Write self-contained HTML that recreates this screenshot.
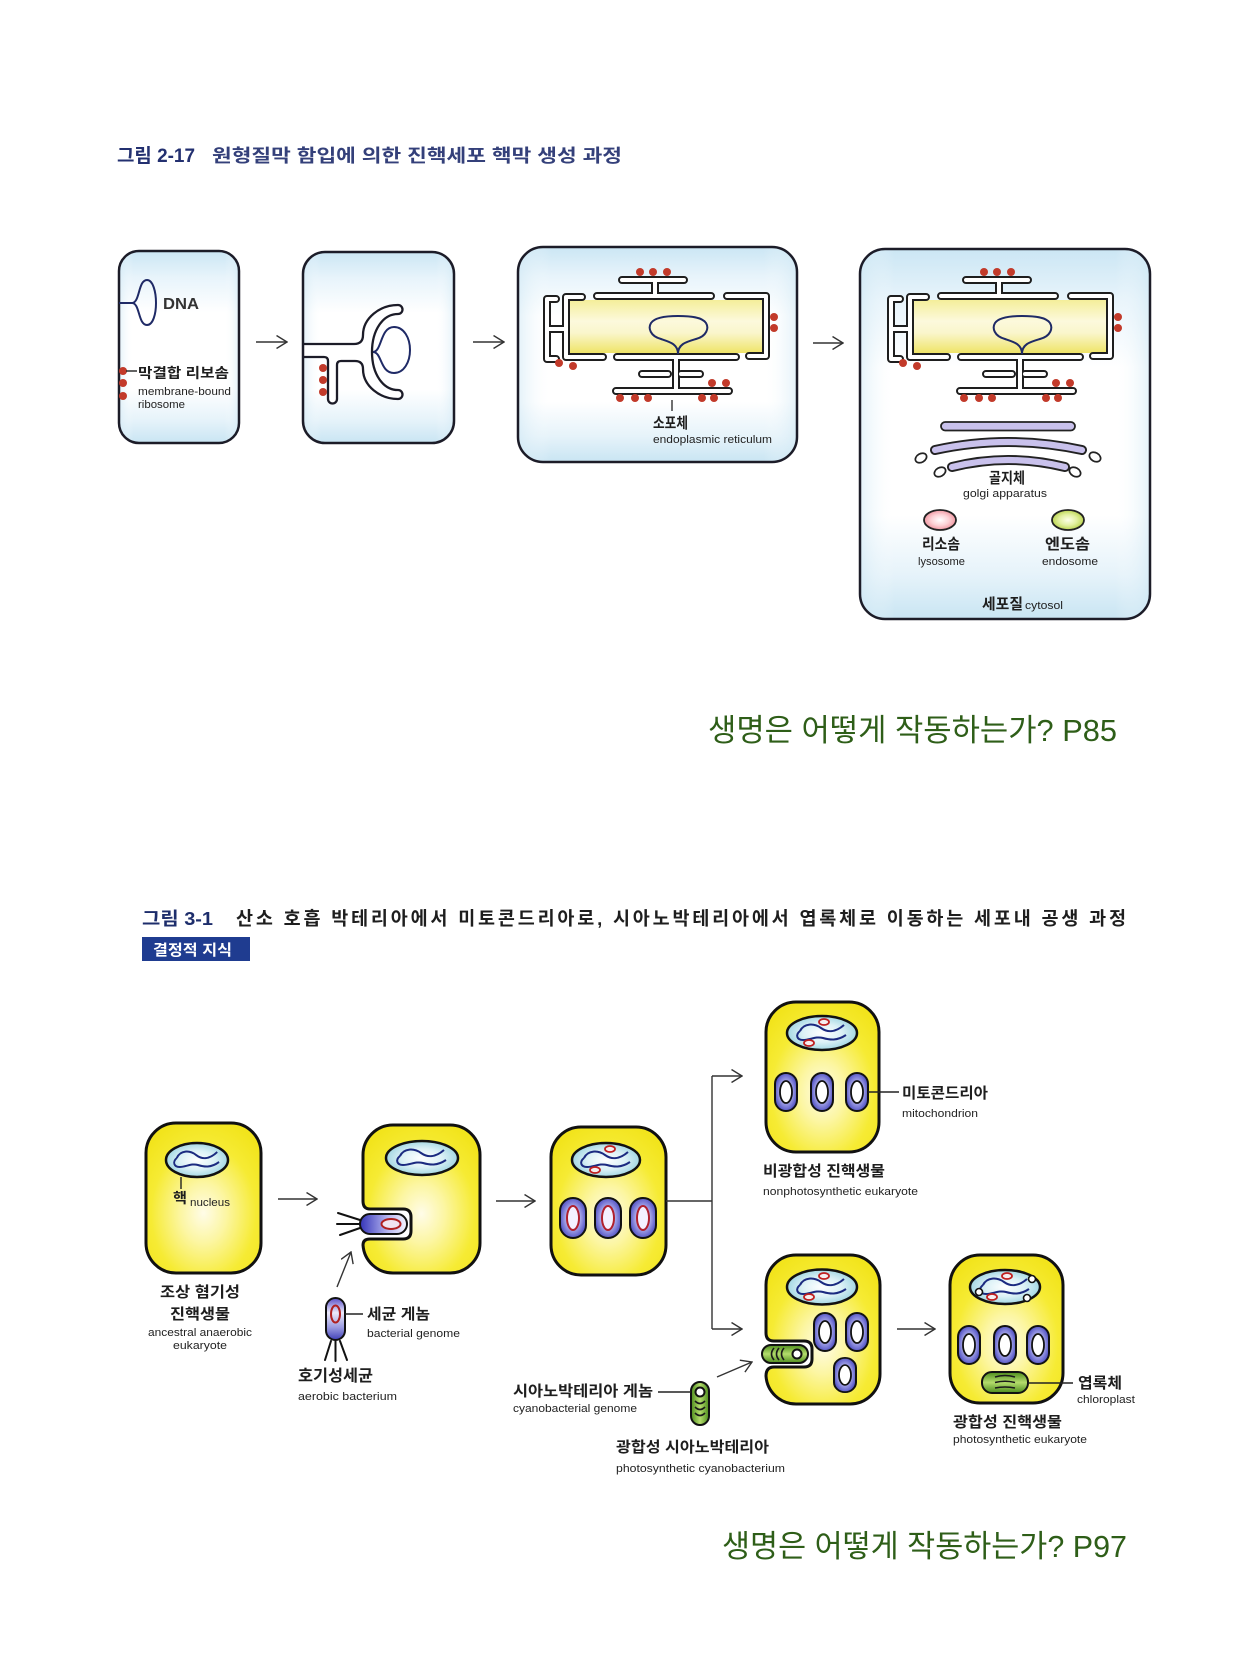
<!DOCTYPE html>
<html>
<head>
<meta charset="utf-8">
<style>
  html,body{margin:0;padding:0;background:#ffffff;}
  svg{display:block;}
  .k{font-family:"Liberation Sans","Noto Sans CJK KR",sans-serif;font-weight:700;fill:#1e1e1e;}
  .e{font-family:"Liberation Sans","Noto Sans CJK KR",sans-serif;font-size:11px;fill:#222;}
  .g{font-family:"Liberation Sans","Noto Sans CJK KR",sans-serif;font-weight:400;fill:#2e5e18;}
</style>
</head>
<body>
<svg width="1260" height="1680" viewBox="0 0 1260 1680" xmlns="http://www.w3.org/2000/svg" xmlns:xlink="http://www.w3.org/1999/xlink">
<defs>
  <linearGradient id="boxV" x1="0" y1="0" x2="0" y2="1">
    <stop offset="0" stop-color="#cbe6f4"/>
    <stop offset="0.14" stop-color="#e8f4fb"/>
    <stop offset="0.32" stop-color="#ffffff"/>
    <stop offset="0.72" stop-color="#ffffff"/>
    <stop offset="0.88" stop-color="#e6f3fa"/>
    <stop offset="1" stop-color="#c9e5f3"/>
  </linearGradient>
  <linearGradient id="boxH" x1="0" y1="0" x2="1" y2="0">
    <stop offset="0" stop-color="#cde7f4" stop-opacity="0.55"/>
    <stop offset="0.12" stop-color="#ffffff" stop-opacity="0"/>
    <stop offset="0.88" stop-color="#ffffff" stop-opacity="0"/>
    <stop offset="1" stop-color="#cde7f4" stop-opacity="0.55"/>
  </linearGradient>
  <linearGradient id="yER" x1="0" y1="0" x2="0" y2="1">
    <stop offset="0" stop-color="#f4ee9a"/>
    <stop offset="0.4" stop-color="#fcf9dc"/>
    <stop offset="0.62" stop-color="#faf6cc"/>
    <stop offset="1" stop-color="#efe468"/>
  </linearGradient>
  <radialGradient id="cellY" cx="0.5" cy="0.6" r="0.65">
    <stop offset="0" stop-color="#fffce8"/>
    <stop offset="0.3" stop-color="#fcf6a4"/>
    <stop offset="0.7" stop-color="#f6eb34"/>
    <stop offset="1" stop-color="#f2e41c"/>
  </radialGradient>
  <radialGradient id="nucG" cx="0.5" cy="0.5" r="0.55">
    <stop offset="0" stop-color="#ffffff"/>
    <stop offset="0.5" stop-color="#dcf1f6"/>
    <stop offset="1" stop-color="#98d2df"/>
  </radialGradient>
  <radialGradient id="mitoG" cx="0.5" cy="0.5" r="0.55">
    <stop offset="0" stop-color="#eeeeff"/>
    <stop offset="0.45" stop-color="#b4b4ee"/>
    <stop offset="1" stop-color="#4848c0"/>
  </radialGradient>
  <linearGradient id="bactH" x1="0" y1="0" x2="1" y2="0">
    <stop offset="0" stop-color="#3434b8"/>
    <stop offset="0.6" stop-color="#b8b8f0"/>
    <stop offset="1" stop-color="#f6f6ff"/>
  </linearGradient>
  <linearGradient id="bactV" x1="0" y1="0" x2="0" y2="1">
    <stop offset="0" stop-color="#5a4ec8"/>
    <stop offset="0.35" stop-color="#ecebfb"/>
    <stop offset="0.7" stop-color="#9a9ae0"/>
    <stop offset="1" stop-color="#4040b8"/>
  </linearGradient>
  <linearGradient id="grH" x1="0" y1="0" x2="1" y2="0">
    <stop offset="0" stop-color="#4c8c1c"/>
    <stop offset="0.5" stop-color="#b4dc6c"/>
    <stop offset="1" stop-color="#4c8c1c"/>
  </linearGradient>
  <linearGradient id="grV" x1="0" y1="0" x2="0" y2="1">
    <stop offset="0" stop-color="#4c8c1c"/>
    <stop offset="0.5" stop-color="#b4dc6c"/>
    <stop offset="1" stop-color="#4c8c1c"/>
  </linearGradient>
  <radialGradient id="lysoG" cx="0.5" cy="0.5" r="0.55">
    <stop offset="0" stop-color="#ffffff"/>
    <stop offset="0.5" stop-color="#fcd2d6"/>
    <stop offset="1" stop-color="#ee8a96"/>
  </radialGradient>
  <radialGradient id="endoG" cx="0.5" cy="0.5" r="0.55">
    <stop offset="0" stop-color="#fdffe8"/>
    <stop offset="0.5" stop-color="#e2f0a0"/>
    <stop offset="1" stop-color="#b2ce3e"/>
  </radialGradient>

  <marker id="ah" viewBox="0 0 12 14" refX="11" refY="7" markerWidth="12" markerHeight="14" markerUnits="userSpaceOnUse" orient="auto">
    <path d="M0.5,0.5 L11,7 L0.5,13.5" fill="none" stroke="#333" stroke-width="1.4"/>
  </marker>

  <path id="erp" d="M622,280 H684 M655,280 V296 M597,296 H711 M727,296 H766 V356 H749 M617,357 H736 M582,297 H566 V357 H603 M556,299 H547 V359 H556 M547,329 H566 M676,357 V391 M642,374 H668 M681,374 H700 M616,391 H729"/>

  <g id="erall">
    <rect x="569" y="300" width="194" height="53" fill="url(#yER)"/>
    <use xlink:href="#erp" fill="none" stroke="#1e1e1e" stroke-width="8" stroke-linecap="round" stroke-linejoin="round"/>
    <use xlink:href="#erp" fill="none" stroke="#ffffff" stroke-width="4" stroke-linecap="round" stroke-linejoin="round"/>
    <path d="M678,354 C678,344 670,342 661,339 C650,336 648,328 651,323 C655,317 667,316 678,316 C690,316 702,317 706,323 C709,328 707,336 696,339 C686,342 678,344 678,354" fill="none" stroke="#1f2a66" stroke-width="2"/>
    <g fill="#c23a2a">
      <circle cx="640" cy="272" r="4"/><circle cx="653" cy="272" r="4"/><circle cx="667" cy="272" r="4"/>
      <circle cx="774" cy="317" r="4"/><circle cx="774" cy="328" r="4"/>
      <circle cx="559" cy="363" r="4"/><circle cx="573" cy="366" r="4"/>
      <circle cx="620" cy="398" r="4"/><circle cx="635" cy="398" r="4"/><circle cx="648" cy="398" r="4"/>
      <circle cx="702" cy="398" r="4"/><circle cx="714" cy="398" r="4"/>
      <circle cx="712" cy="383" r="4"/><circle cx="726" cy="383" r="4"/>
    </g>
  </g>

  <path id="dna" d="M-22,-2 C-18,-10 -8,-10 -1,-5 C6,0 14,-1 22,-8 M-22,-2 C-27,2 -25,7 -19,7 C-12,7 -6,3 1,5 C8,7 15,8 24,2" fill="none" stroke="#1b2a80" stroke-width="2"/>

  <g id="mito">
    <rect x="-11" y="-19" width="22" height="38" rx="11" fill="url(#mitoG)" stroke="#111" stroke-width="2"/>
    <ellipse cx="0" cy="0" rx="6" ry="11" fill="#ffffff" stroke="#111" stroke-width="1.8"/>
  </g>
  <g id="mitoR">
    <rect x="-13" y="-20" width="26" height="40" rx="13" fill="url(#mitoG)" stroke="#111" stroke-width="2"/>
    <ellipse cx="0" cy="0" rx="6" ry="12" fill="#f4f0ff" stroke="#b0202e" stroke-width="2"/>
  </g>
  <g id="plasm">
    <ellipse cx="4" cy="-11" rx="5" ry="3" fill="#f6eef0" stroke="#c02020" stroke-width="1.8"/>
    <ellipse cx="-11" cy="10" rx="5" ry="3" fill="#f6eef0" stroke="#c02020" stroke-width="1.8"/>
  </g>
</defs>

<rect x="0" y="0" width="1260" height="1680" fill="#ffffff"/>

<!-- ============ FIGURE 2-17 ============ -->
<text class="k" x="117" y="162" font-size="19" style="fill:#233070" textLength="78" lengthAdjust="spacingAndGlyphs">그림 2-17</text>
<text class="k" x="212" y="162" font-size="18" style="fill:#34407a" textLength="410" lengthAdjust="spacingAndGlyphs">원형질막 함입에 의한 진핵세포 핵막 생성 과정</text>

<!-- Box 1 -->
<rect x="119" y="251" width="120" height="192" rx="20" fill="url(#boxV)"/>
<rect x="119" y="251" width="120" height="192" rx="20" fill="url(#boxH)" stroke="#1c1c28" stroke-width="2.5"/>
<path d="M119,303 H132 C140,303 138,280 147,280 C153,280 156,292 156,303 C156,314 153,325 147,325 C138,325 140,303 132,303" fill="none" stroke="#1f2a66" stroke-width="2"/>
<text x="163" y="309" font-size="16" style="font-family:'Liberation Sans',sans-serif;font-weight:700;fill:#333" textLength="36" lengthAdjust="spacingAndGlyphs">DNA</text>
<g fill="#c23a2a"><circle cx="123" cy="371" r="4"/><circle cx="123" cy="383" r="4"/><circle cx="123" cy="396" r="4"/></g>
<line x1="126" y1="371" x2="137" y2="371" stroke="#222" stroke-width="1.4"/>
<text class="k" x="138" y="378" font-size="14" textLength="91" lengthAdjust="spacingAndGlyphs">막결합 리보솜</text>
<text class="e" x="138" y="395" textLength="93" lengthAdjust="spacingAndGlyphs">membrane-bound</text>
<text class="e" x="138" y="408" textLength="47" lengthAdjust="spacingAndGlyphs">ribosome</text>

<line x1="256" y1="342" x2="287" y2="342" stroke="#333" stroke-width="1.4" marker-end="url(#ah)"/>

<!-- Box 2 -->
<rect x="303" y="252" width="151" height="191" rx="22" fill="url(#boxV)"/>
<rect x="303" y="252" width="151" height="191" rx="22" fill="url(#boxH)"/>
<path d="M303,344 H354 Q363,344 363,335 C363,318 380,305 398,305 A4.5,4.5 0 0 1 398,314 C383,314 372,330 372,352 C372,374 383,390 398,390 A4.5,4.5 0 0 1 398,399 C380,399 363,386 363,369 Q363,361 355,361 H341 Q337,361 337,365 V399 A4.5,4.5 0 0 1 328,399 V361 Q328,357 324,357 H303" fill="#ffffff" stroke="#1c1c28" stroke-width="2.3" stroke-linejoin="round"/>
<path d="M373,352 C382,352 380,327 394,327 C404,327 410,338 410,350 C410,362 404,373 394,373 C380,373 382,352 373,352" fill="none" stroke="#1f2a66" stroke-width="2"/>
<g fill="#c23a2a"><circle cx="323" cy="368" r="4"/><circle cx="323" cy="380" r="4"/><circle cx="323" cy="392" r="4"/></g>
<rect x="303" y="252" width="151" height="191" rx="22" fill="none" stroke="#1c1c28" stroke-width="2.5"/>

<line x1="473" y1="342" x2="504" y2="342" stroke="#333" stroke-width="1.4" marker-end="url(#ah)"/>

<!-- Box 3 -->
<rect x="518" y="247" width="279" height="215" rx="25" fill="url(#boxV)"/>
<rect x="518" y="247" width="279" height="215" rx="25" fill="url(#boxH)" stroke="#1c1c28" stroke-width="2.5"/>
<use xlink:href="#erall"/>
<line x1="672" y1="400" x2="672" y2="411" stroke="#222" stroke-width="1.3"/>
<text class="k" x="653" y="428" font-size="15" textLength="35" lengthAdjust="spacingAndGlyphs">소포체</text>
<text class="e" x="653" y="443" textLength="119" lengthAdjust="spacingAndGlyphs">endoplasmic reticulum</text>

<line x1="813" y1="343" x2="843" y2="343" stroke="#333" stroke-width="1.4" marker-end="url(#ah)"/>

<!-- Box 4 -->
<rect x="860" y="249" width="290" height="370" rx="25" fill="url(#boxV)"/>
<rect x="860" y="249" width="290" height="370" rx="25" fill="url(#boxH)" stroke="#1c1c28" stroke-width="2.5"/>
<use xlink:href="#erall" transform="translate(344,0)"/>
<!-- golgi -->
<rect x="941" y="422" width="134" height="8.5" rx="4.2" fill="#c9c1ec" stroke="#222" stroke-width="1.8"/>
<path d="M935,450 Q1008,434 1082,450" fill="none" stroke="#222" stroke-width="10" stroke-linecap="round"/>
<path d="M935,450 Q1008,434 1082,450" fill="none" stroke="#c9c1ec" stroke-width="6.2" stroke-linecap="round"/>
<path d="M952,467 Q1008,453 1065,467" fill="none" stroke="#222" stroke-width="10" stroke-linecap="round"/>
<path d="M952,467 Q1008,453 1065,467" fill="none" stroke="#c9c1ec" stroke-width="6.2" stroke-linecap="round"/>
<g fill="#ffffff" stroke="#222" stroke-width="1.7">
  <ellipse cx="921" cy="458" rx="6" ry="4.3" transform="rotate(-30 921 458)"/>
  <ellipse cx="940" cy="472" rx="6" ry="4.3" transform="rotate(-30 940 472)"/>
  <ellipse cx="1095" cy="457" rx="6" ry="4.3" transform="rotate(30 1095 457)"/>
  <ellipse cx="1075" cy="472" rx="6" ry="4.3" transform="rotate(30 1075 472)"/>
</g>
<text class="k" x="989" y="483" font-size="15" textLength="36" lengthAdjust="spacingAndGlyphs">골지체</text>
<text class="e" x="963" y="497" textLength="84" lengthAdjust="spacingAndGlyphs">golgi apparatus</text>
<ellipse cx="940" cy="520" rx="16" ry="10" fill="url(#lysoG)" stroke="#222" stroke-width="1.8"/>
<ellipse cx="1068" cy="520" rx="16" ry="10" fill="url(#endoG)" stroke="#222" stroke-width="1.8"/>
<text class="k" x="922" y="549" font-size="15" textLength="38" lengthAdjust="spacingAndGlyphs">리소솜</text>
<text class="e" x="918" y="565" textLength="47" lengthAdjust="spacingAndGlyphs">lysosome</text>
<text class="k" x="1045" y="549" font-size="15" textLength="45" lengthAdjust="spacingAndGlyphs">엔도솜</text>
<text class="e" x="1042" y="565" textLength="56" lengthAdjust="spacingAndGlyphs">endosome</text>
<text class="k" x="982" y="609" font-size="15" textLength="41" lengthAdjust="spacingAndGlyphs">세포질</text>
<text class="e" x="1025" y="609" textLength="38" lengthAdjust="spacingAndGlyphs">cytosol</text>

<!-- green caption 1 -->
<text class="g" x="708" y="741" font-size="31" textLength="409" lengthAdjust="spacingAndGlyphs">생명은 어떻게 작동하는가? P85</text>

<!-- ============ FIGURE 3-1 ============ -->
<text class="k" x="142" y="925" font-size="18" style="fill:#1d2d6b" textLength="71" lengthAdjust="spacingAndGlyphs">그림 3-1</text>
<text class="k" x="236" y="925" font-size="18.5" style="fill:#1e1e1e" textLength="890" lengthAdjust="spacing">산소 호흡 박테리아에서 미토콘드리아로, 시아노박테리아에서 엽록체로 이동하는 세포내 공생 과정</text>
<rect x="142" y="937" width="108" height="24" fill="#1f3c90"/>
<text class="k" x="153" y="955" font-size="15" style="fill:#ffffff" textLength="79" lengthAdjust="spacingAndGlyphs">결정적 지식</text>

<!-- Cell A -->
<rect x="146" y="1123" width="115" height="150" rx="30" fill="url(#cellY)" stroke="#111" stroke-width="3"/>
<ellipse cx="197" cy="1160" rx="31" ry="17" fill="url(#nucG)" stroke="#111" stroke-width="2.5"/>
<use xlink:href="#dna" transform="translate(197,1160) scale(0.92,1)"/>
<line x1="181" y1="1177" x2="181" y2="1189" stroke="#222" stroke-width="1.4"/>
<text class="k" x="173" y="1203" font-size="14" textLength="14" lengthAdjust="spacingAndGlyphs">핵</text>
<text class="e" x="190" y="1206" textLength="40" lengthAdjust="spacingAndGlyphs">nucleus</text>
<text class="k" x="160" y="1297" font-size="15" textLength="80" lengthAdjust="spacingAndGlyphs">조상 혐기성</text>
<text class="k" x="170" y="1319" font-size="15" textLength="60" lengthAdjust="spacingAndGlyphs">진핵생물</text>
<text class="e" x="148" y="1336" textLength="104" lengthAdjust="spacingAndGlyphs">ancestral anaerobic</text>
<text class="e" x="173" y="1349" textLength="54" lengthAdjust="spacingAndGlyphs">eukaryote</text>

<line x1="278" y1="1199" x2="317" y2="1199" stroke="#333" stroke-width="1.4" marker-end="url(#ah)"/>

<!-- Cell B -->
<path d="M393,1125 H450 A30,30 0 0 1 480,1155 V1243 A30,30 0 0 1 450,1273 H393 A30,30 0 0 1 363,1245 Q363,1239 370,1239 H403 Q411,1239 411,1231 V1217 Q411,1209 403,1209 H370 Q363,1209 363,1201 V1155 A30,30 0 0 1 393,1125 Z" fill="url(#cellY)" stroke="#111" stroke-width="3" stroke-linejoin="round"/>
<ellipse cx="422" cy="1158" rx="36" ry="17" fill="url(#nucG)" stroke="#111" stroke-width="2.5"/>
<use xlink:href="#dna" transform="translate(422,1158)"/>
<rect x="360" y="1214" width="47" height="20" rx="10" fill="url(#bactH)" stroke="#111" stroke-width="2"/>
<ellipse cx="391" cy="1224" rx="9.5" ry="5" fill="#f0e4f0" stroke="#b02020" stroke-width="2"/>
<g stroke="#111" stroke-width="2" stroke-linecap="round">
  <line x1="360" y1="1220" x2="338" y2="1213"/>
  <line x1="360" y1="1224" x2="337" y2="1224"/>
  <line x1="360" y1="1228" x2="340" y2="1235"/>
</g>
<line x1="337" y1="1287" x2="351" y2="1252" stroke="#333" stroke-width="1.4" marker-end="url(#ah)"/>

<!-- free aerobic bacterium -->
<rect x="326" y="1298" width="19" height="42" rx="9.5" fill="url(#bactV)" stroke="#111" stroke-width="2"/>
<ellipse cx="335.5" cy="1314" rx="4.5" ry="8.5" fill="none" stroke="#b02020" stroke-width="2"/>
<g stroke="#111" stroke-width="2" stroke-linecap="round">
  <line x1="331" y1="1341" x2="325" y2="1360"/>
  <line x1="335.5" y1="1341" x2="335.5" y2="1361"/>
  <line x1="340" y1="1341" x2="347" y2="1360"/>
</g>
<line x1="345" y1="1314" x2="363" y2="1314" stroke="#222" stroke-width="1.4"/>
<text class="k" x="367" y="1319" font-size="15" textLength="63" lengthAdjust="spacingAndGlyphs">세균 게놈</text>
<text class="e" x="367" y="1337" textLength="93" lengthAdjust="spacingAndGlyphs">bacterial genome</text>
<text class="k" x="298" y="1381" font-size="16" textLength="75" lengthAdjust="spacingAndGlyphs">호기성세균</text>
<text class="e" x="298" y="1400" textLength="99" lengthAdjust="spacingAndGlyphs">aerobic bacterium</text>

<line x1="496" y1="1201" x2="535" y2="1201" stroke="#333" stroke-width="1.4" marker-end="url(#ah)"/>

<!-- Cell C -->
<rect x="551" y="1127" width="115" height="148" rx="30" fill="url(#cellY)" stroke="#111" stroke-width="3"/>
<ellipse cx="606" cy="1160" rx="34" ry="17" fill="url(#nucG)" stroke="#111" stroke-width="2.5"/>
<use xlink:href="#dna" transform="translate(606,1160)"/>
<use xlink:href="#plasm" transform="translate(606,1160)"/>
<use xlink:href="#mitoR" transform="translate(573,1218)"/>
<use xlink:href="#mitoR" transform="translate(608,1218)"/>
<use xlink:href="#mitoR" transform="translate(643,1218)"/>

<!-- connector -->
<g stroke="#333" stroke-width="1.4" fill="none">
  <line x1="666" y1="1201" x2="712" y2="1201"/>
  <line x1="712" y1="1076" x2="712" y2="1329"/>
</g>
<line x1="712" y1="1076" x2="742" y2="1076" stroke="#333" stroke-width="1.4" marker-end="url(#ah)"/>
<line x1="712" y1="1329" x2="742" y2="1329" stroke="#333" stroke-width="1.4" marker-end="url(#ah)"/>

<!-- Cell F (nonphotosynthetic) -->
<rect x="766" y="1002" width="113" height="150" rx="30" fill="url(#cellY)" stroke="#111" stroke-width="3"/>
<ellipse cx="822" cy="1033" rx="35" ry="17" fill="url(#nucG)" stroke="#111" stroke-width="2.5"/>
<use xlink:href="#dna" transform="translate(822,1033)"/>
<use xlink:href="#plasm" transform="translate(820,1033)"/>
<use xlink:href="#mito" transform="translate(786,1092)"/>
<use xlink:href="#mito" transform="translate(822,1092)"/>
<use xlink:href="#mito" transform="translate(857,1092)"/>
<line x1="868" y1="1092" x2="899" y2="1092" stroke="#222" stroke-width="1.4"/>
<text class="k" x="902" y="1098" font-size="15" textLength="86" lengthAdjust="spacingAndGlyphs">미토콘드리아</text>
<text class="e" x="902" y="1117" textLength="76" lengthAdjust="spacingAndGlyphs">mitochondrion</text>
<text class="k" x="763" y="1176" font-size="15" textLength="122" lengthAdjust="spacingAndGlyphs">비광합성 진핵생물</text>
<text class="e" x="763" y="1195" textLength="155" lengthAdjust="spacingAndGlyphs">nonphotosynthetic eukaryote</text>

<!-- Cell D -->
<path d="M796,1255 H850 A30,30 0 0 1 880,1285 V1374 A30,30 0 0 1 850,1404 H796 A30,30 0 0 1 766,1376 Q766,1367 774,1367 H804 Q812,1367 812,1359 V1349 Q812,1341 804,1341 H774 Q766,1341 766,1333 V1285 A30,30 0 0 1 796,1255 Z" fill="url(#cellY)" stroke="#111" stroke-width="3" stroke-linejoin="round"/>
<ellipse cx="822" cy="1287" rx="35" ry="17.5" fill="url(#nucG)" stroke="#111" stroke-width="2.5"/>
<use xlink:href="#dna" transform="translate(822,1287)"/>
<use xlink:href="#plasm" transform="translate(820,1287)"/>
<use xlink:href="#mito" transform="translate(825,1332)"/>
<use xlink:href="#mito" transform="translate(857,1332)"/>
<use xlink:href="#mito" transform="translate(845,1375) scale(1,0.9)"/>
<rect x="762" y="1345" width="46" height="18" rx="9" fill="url(#grV)" stroke="#111" stroke-width="2"/>
<g fill="none" stroke="#1a1a1a" stroke-width="1.6">
  <path d="M774,1348 Q769,1354 774,1360"/>
  <path d="M779,1348 Q774,1354 779,1360"/>
  <path d="M784,1348 Q779,1354 784,1360"/>
</g>
<circle cx="797" cy="1354" r="4.5" fill="#ffffff" stroke="#111" stroke-width="2"/>
<line x1="717" y1="1377" x2="752" y2="1362" stroke="#333" stroke-width="1.4" marker-end="url(#ah)"/>

<!-- free cyanobacterium -->
<rect x="691" y="1382" width="18" height="43" rx="9" fill="url(#grH)" stroke="#111" stroke-width="2"/>
<circle cx="700" cy="1392" r="4.5" fill="#ffffff" stroke="#111" stroke-width="2"/>
<g fill="none" stroke="#1a1a1a" stroke-width="1.6">
  <path d="M695,1401 Q700,1406 705,1401"/>
  <path d="M695,1407 Q700,1412 705,1407"/>
  <path d="M695,1413 Q700,1418 705,1413"/>
</g>
<line x1="658" y1="1392" x2="691" y2="1392" stroke="#222" stroke-width="1.4"/>
<text class="k" x="513" y="1396" font-size="15" textLength="140" lengthAdjust="spacingAndGlyphs">시아노박테리아 게놈</text>
<text class="e" x="513" y="1412" textLength="124" lengthAdjust="spacingAndGlyphs">cyanobacterial genome</text>
<text class="k" x="616" y="1452" font-size="15" textLength="153" lengthAdjust="spacingAndGlyphs">광합성 시아노박테리아</text>
<text class="e" x="616" y="1472" textLength="169" lengthAdjust="spacingAndGlyphs">photosynthetic cyanobacterium</text>

<line x1="897" y1="1329" x2="935" y2="1329" stroke="#333" stroke-width="1.4" marker-end="url(#ah)"/>

<!-- Cell E (photosynthetic) -->
<rect x="950" y="1255" width="113" height="148" rx="30" fill="url(#cellY)" stroke="#111" stroke-width="3"/>
<ellipse cx="1005" cy="1287" rx="35" ry="17" fill="url(#nucG)" stroke="#111" stroke-width="2.5"/>
<use xlink:href="#dna" transform="translate(1005,1287)"/>
<use xlink:href="#plasm" transform="translate(1003,1287)"/>
<g fill="#ffffff" stroke="#111" stroke-width="1.6">
  <circle cx="979" cy="1292" r="3.5"/>
  <circle cx="1032" cy="1279" r="3.5"/>
  <circle cx="1027" cy="1298" r="3.5"/>
</g>
<use xlink:href="#mito" transform="translate(969,1345)"/>
<use xlink:href="#mito" transform="translate(1005,1345)"/>
<use xlink:href="#mito" transform="translate(1038,1345)"/>
<rect x="982" y="1372" width="46" height="21" rx="10" fill="url(#grV)" stroke="#111" stroke-width="2"/>
<g fill="none" stroke="#1a1a1a" stroke-width="1.6">
  <path d="M995,1377 Q1005,1374 1015,1377"/>
  <path d="M995,1382.5 Q1005,1380 1015,1382.5"/>
  <path d="M995,1388 Q1005,1386 1015,1388"/>
</g>
<line x1="1028" y1="1383" x2="1073" y2="1383" stroke="#222" stroke-width="1.4"/>
<text class="k" x="1078" y="1388" font-size="15" textLength="44" lengthAdjust="spacingAndGlyphs">엽록체</text>
<text class="e" x="1077" y="1403" textLength="58" lengthAdjust="spacingAndGlyphs">chloroplast</text>
<text class="k" x="953" y="1427" font-size="15" textLength="109" lengthAdjust="spacingAndGlyphs">광합성 진핵생물</text>
<text class="e" x="953" y="1443" textLength="134" lengthAdjust="spacingAndGlyphs">photosynthetic eukaryote</text>

<!-- green caption 2 -->
<text class="g" x="722" y="1557" font-size="31" textLength="405" lengthAdjust="spacingAndGlyphs">생명은 어떻게 작동하는가? P97</text>
</svg>
</body>
</html>
